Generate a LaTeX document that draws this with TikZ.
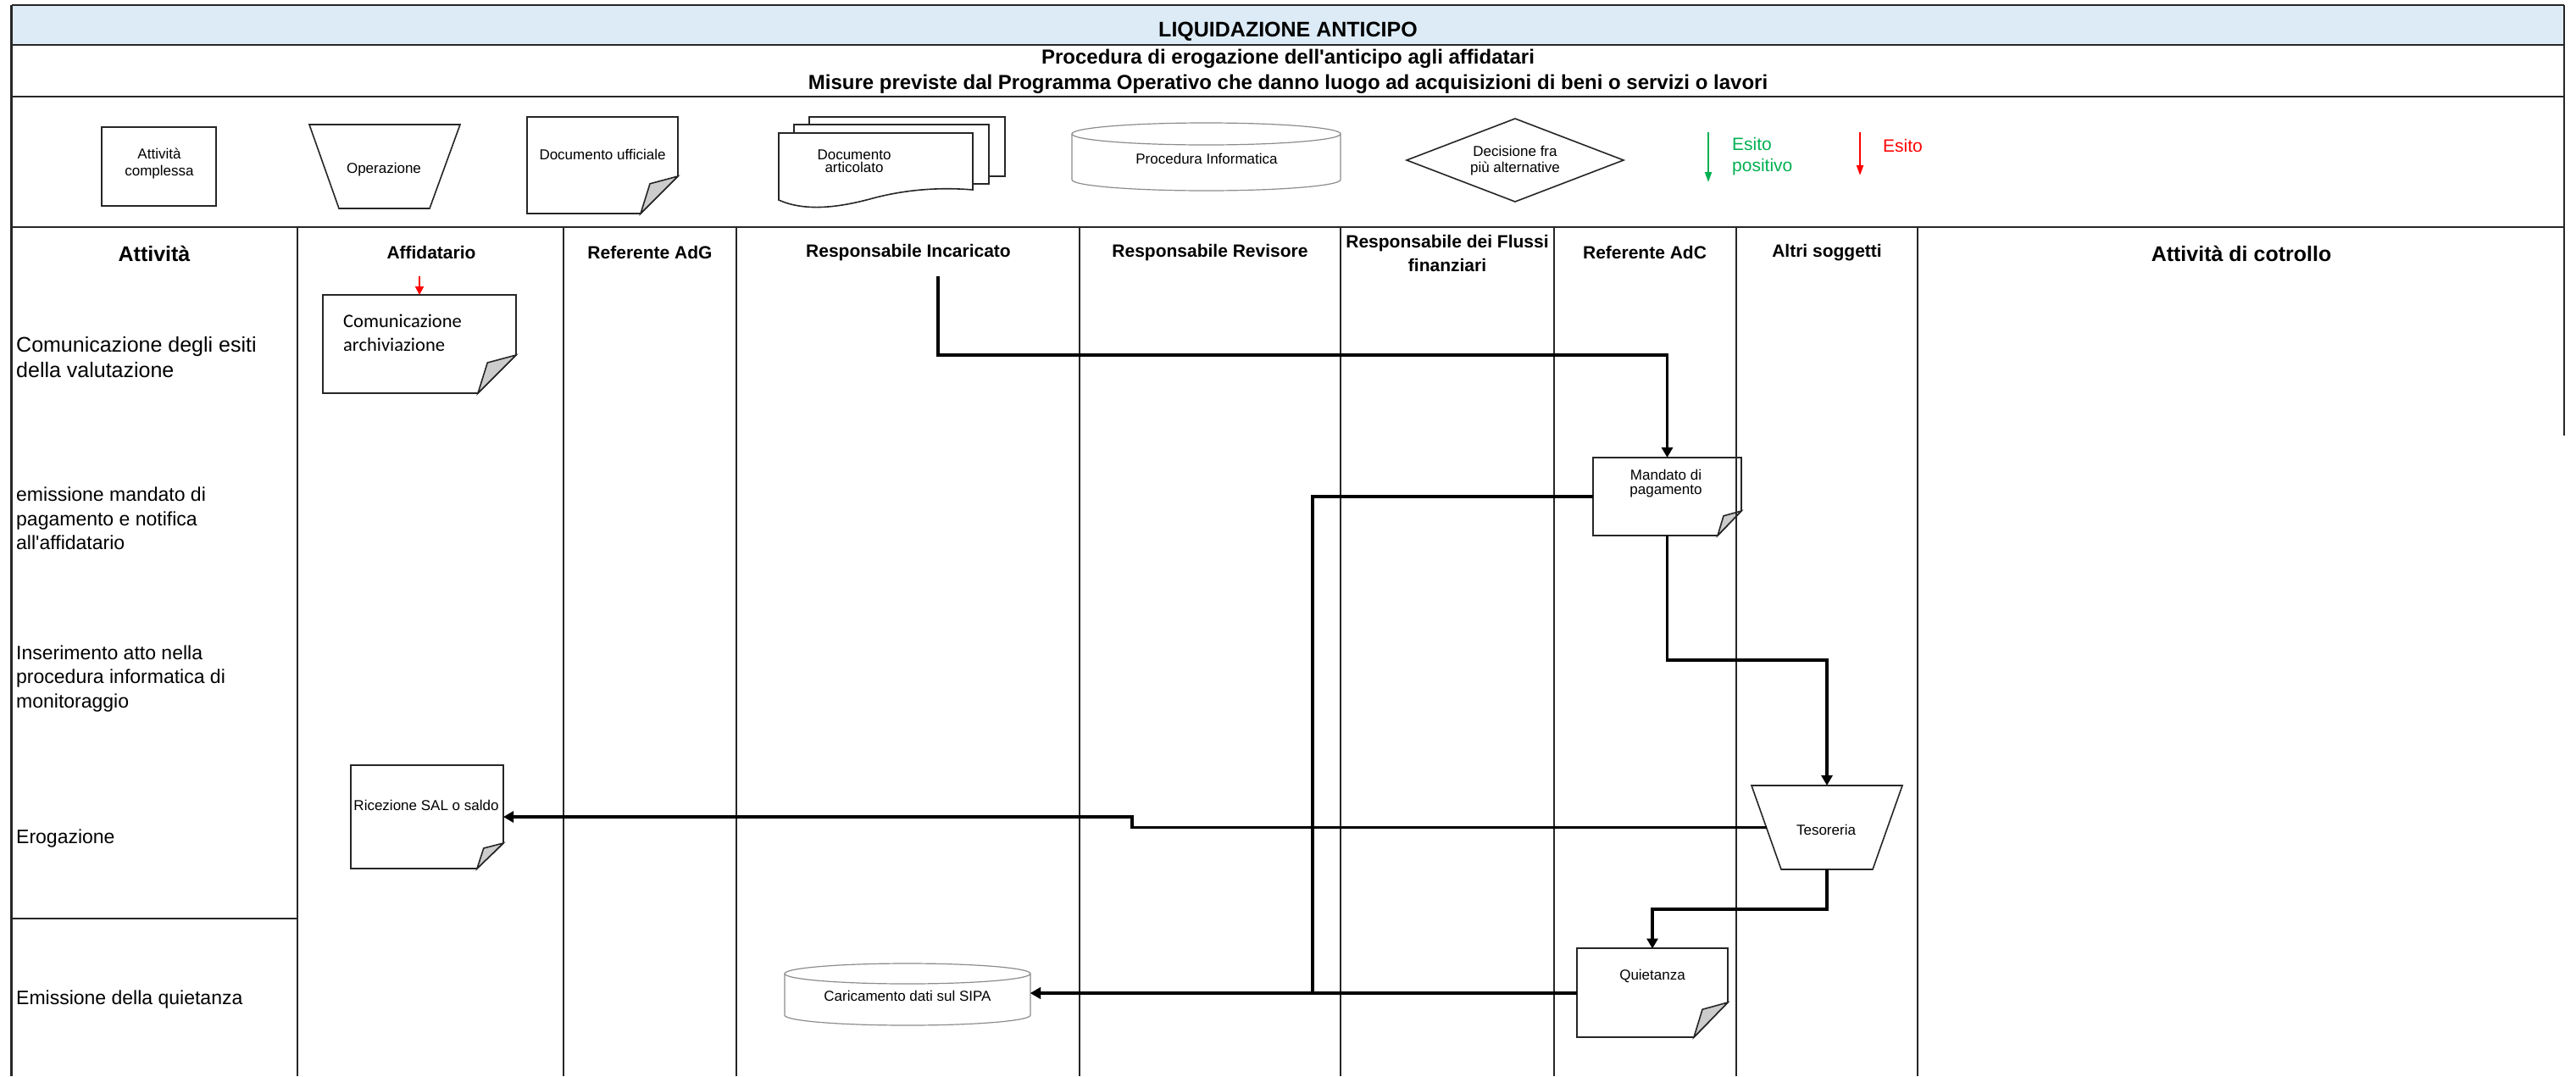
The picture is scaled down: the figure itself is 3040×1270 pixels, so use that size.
\documentclass[tikz,border=0pt]{standalone}
\usepackage{fontspec}
\setmainfont{Liberation Sans}[Ligatures=TeXOff]
\newfontfamily\calib{Carlito}
\usetikzlibrary{arrows.meta}
\definecolor{titleblue}{HTML}{DDEBF7}
\definecolor{esitogreen}{HTML}{00B050}
\definecolor{esitored}{HTML}{FF0000}
\definecolor{foldgray}{HTML}{CCCCCC}
\definecolor{cylgray}{HTML}{8C8C8C}
\newcommand\fsz[2]{\fontsize{#1}{#2}\selectfont}
\newcommand\docshape[6]{%
  \draw[docline,fill=white] (#1,#2) -- (#3,#2) -- (#3,#5) -- (#6,#4) -- (#1,#4) -- cycle;
  \draw[docline,fill=foldgray] (#3,#5) -- ({#6+0.25*(#3-#6)},{#5+0.2*(#4-#5)}) -- (#6,#4) -- cycle;
}
\begin{document}
\begin{tikzpicture}[x=1pt,y=-1pt,
  frame/.style={line width=2.6pt, draw=black!85},
  lane/.style={line width=2pt, draw=black!85},
  docline/.style={line width=1.6pt, draw=black!85, line join=miter},
  cylline/.style={line width=1.2pt, draw=cylgray},
  flow/.style={line width=3.5pt, draw=black, -{Triangle[length=12pt,width=13pt]}},
  redflow/.style={line width=2pt, draw=esitored, -{Triangle[length=10pt,width=10pt]}},
  anch/.style 2 args={minimum width=#1, minimum height=#2, inner sep=0pt, outer sep=0pt},
  txt/.style={inner sep=0pt, align=center},
  small/.style={txt, font=\fsz{17}{19}},
  hdr/.style={txt, font=\bfseries\fsz{21}{28}},
  rowlab/.style={inner sep=0pt, align=left, anchor=west, font=\fsz{23}{28.5}}
]
\useasboundingbox (0,0) rectangle (3040,1270);

% ---------- title band ----------
\fill[titleblue] (13.5,6) rectangle (3026,53);
\node[txt, font=\bfseries\fsz{25}{30}] (title) at (1520,37) {LIQUIDAZIONE ANTICIPO};
\node[txt, font=\bfseries\fsz{24}{29}] (sub1) at (1520,69) {Procedura di erogazione dell'anticipo agli affidatari};
\node[txt, font=\bfseries\fsz{24}{29}] (sub2) at (1520,99) {Misure previste dal Programma Operativo che danno luogo ad acquisizioni di beni o servizi o lavori};

% ---------- legend ----------
\draw[docline,fill=white] (120,150) rectangle (255,243);
\node[small, font=\fsz{17}{20}] (lg1) at (188,193) {Attività\\complessa};

\draw[docline,fill=white] (365,147) -- (543,147) -- (507,246) -- (400,246) -- cycle;
\node[small] (lg2) at (453,200) {Operazione};

\docshape{622}{138}{800}{252}{208}{756}
\node[small] (lg3) at (711,182) {Documento ufficiale};

\draw[docline,fill=white] (955,138) rectangle (1186,208);
\draw[docline,fill=white] (937,147) rectangle (1167,217);
\draw[docline,fill=white] (919,157) -- (1148,157) -- (1148,224)
   .. controls (1100,220) and (1060,226) .. (1030,234)
   .. controls (990,245) and (950,250) .. (919,236) -- cycle;
\node[small, font=\fsz{17}{15}] (lg4) at (1008,190) {Documento\\articolato};

\draw[cylline,fill=white] (1265,158) -- (1265,212) arc[start angle=180,end angle=360,x radius=158.5pt,y radius=13pt] -- (1582,158);
\draw[cylline,fill=white] (1423.5,158) ellipse [x radius=158.5pt, y radius=13pt];
\node[small] (lg5) at (1424,187) {Procedura Informatica};

\draw[docline,fill=white] (1660,189) -- (1788,140) -- (1916,189) -- (1788,238) -- cycle;
\node[small] (lg6) at (1788,190) {Decisione fra\\più alternative};

\coordinate (gA) at (2016,156);
\coordinate (gB) at (2016,215);
\draw[line width=2pt, draw=esitogreen, -{Triangle[length=12pt,width=8pt]}] (gA) -- (gB);
\node[inner sep=0pt, align=left, anchor=west, text=esitogreen, font=\fsz{21}{25}] (lg7) at (2044,185) {Esito\\positivo};

\coordinate (rA) at (2195,156);
\coordinate (rB) at (2195,207);
\draw[line width=2pt, draw=esitored, -{Triangle[length=12pt,width=8pt]}] (rA) -- (rB);
\node[inner sep=0pt, anchor=west, text=esitored, font=\fsz{21}{25}] (lg8) at (2222,172) {Esito};

% ---------- headers ----------
\node[txt, font=\bfseries\fsz{25}{30}] (h0) at (182,299) {Attività};
\node[hdr] (h1) at (509,298) {Affidatario};
\node[hdr] (h2) at (767,298) {Referente AdG};
\node[hdr] (h3) at (1072,298) {Responsabile Incaricato};
\node[hdr] (h4) at (1428,298) {Responsabile Revisore};
\node[hdr] (h5) at (1708,299) {Responsabile dei Flussi\\finanziari};
\node[hdr] (h6) at (1941,298) {Referente AdC};
\node[hdr] (h7) at (2156,298) {Altri soggetti};
\node[txt, font=\bfseries\fsz{25}{30}] (h8) at (2645,299) {Attività di cotrollo};

% ---------- row labels ----------
\node[rowlab, font=\fsz{25}{30}] (r1) at (19,422) {Comunicazione degli esiti\\della valutazione};
\node[rowlab] (r2) at (19,612) {emissione mandato di\\pagamento e notifica\\all'affidatario};
\node[rowlab] (r3) at (19,801) {Inserimento atto nella\\procedura informatica di\\monitoraggio};
\node[rowlab] (r4) at (19,990) {Erogazione};
\node[rowlab] (r5) at (19,1180) {Emissione della quietanza};

% ---------- flow shapes ----------
\docshape{381}{348}{609}{464}{419}{564}
\node[anch={228pt}{116pt}] (comunic) at (495,406) {};
\node[inner sep=0pt, align=left, anchor=west, font=\calib\fsz{22.5}{28}] (comunic-t) at (405,393) {Comunicazione\\archiviazione};

\docshape{1880}{540}{2055}{632}{603}{2027}
\node[anch={175pt}{92pt}] (mandato) at (1967.5,586) {};
\node[small, font=\fsz{17}{17}] (mandato-t) at (1966,571) {Mandato di\\pagamento};

\docshape{414}{903}{594}{1025}{995}{563}
\node[anch={180pt}{122pt}] (ricez) at (504,964) {};
\node[small] (ricez-t) at (503,950) {Ricezione SAL o saldo};

\docshape{1861}{1119}{2039}{1224}{1183}{1999}
\node[anch={178pt}{105pt}] (quiet) at (1950,1172) {};
\node[small] (quiet-t) at (1950,1152) {Quietanza};

\draw[docline,fill=white] (2067,927) -- (2245,927) -- (2210,1026) -- (2102,1026) -- cycle;
\node[anch={143pt}{99pt}] (tesor) at (2156,976.5) {};
\node[small] (tesor-t) at (2155,979) {Tesoreria};

\draw[cylline,fill=white] (926,1149) -- (926,1198) arc[start angle=180,end angle=360,x radius=145pt,y radius=12pt] -- (1216,1149);
\draw[cylline,fill=white] (1071,1149) ellipse [x radius=145pt, y radius=12pt];
\node[anch={290pt}{70pt}] (carica) at (1071,1172) {};
\node[small] (carica-t) at (1071,1175) {Caricamento dati sul SIPA};

% ---------- grid ----------
\draw[frame] (13.5,6) -- (3026,6);
\draw[frame] (13.5,53) -- (3026,53);
\draw[frame] (13.5,114) -- (3026,114);
\draw[frame] (13.5,268) -- (3026,268);
\draw[frame] (13.5,6) -- (13.5,1270);
\draw[frame] (3026,6) -- (3026,514);
\foreach \xx in {351,665,869,1274,1582,1834,2049,2263}
  \draw[lane] (\xx,268) -- (\xx,1270);
\draw[lane] (13.5,1084) -- (351,1084);

% ---------- connectors ----------
\coordinate (incs) at (1107,326);
\coordinate (redA) at (495,326);
\draw[redflow] (redA) -- (comunic.north);
\draw[flow] (incs) -- (1107,419) -| (mandato.north);
\draw[flow] (mandato.west) -| (1549,1172) -- (carica.east);
\draw[flow] (quiet.west) -- (carica.east);
\draw[flow] (mandato.south) -- (1967.5,779) -| (tesor.north);
\draw[flow] (tesor.west) -- (1336,976.5) -- (1336,964) -- (ricez.east);
\draw[flow] (tesor.south) -- (2156,1073) -| (quiet.north);
\end{tikzpicture}
\end{document}
